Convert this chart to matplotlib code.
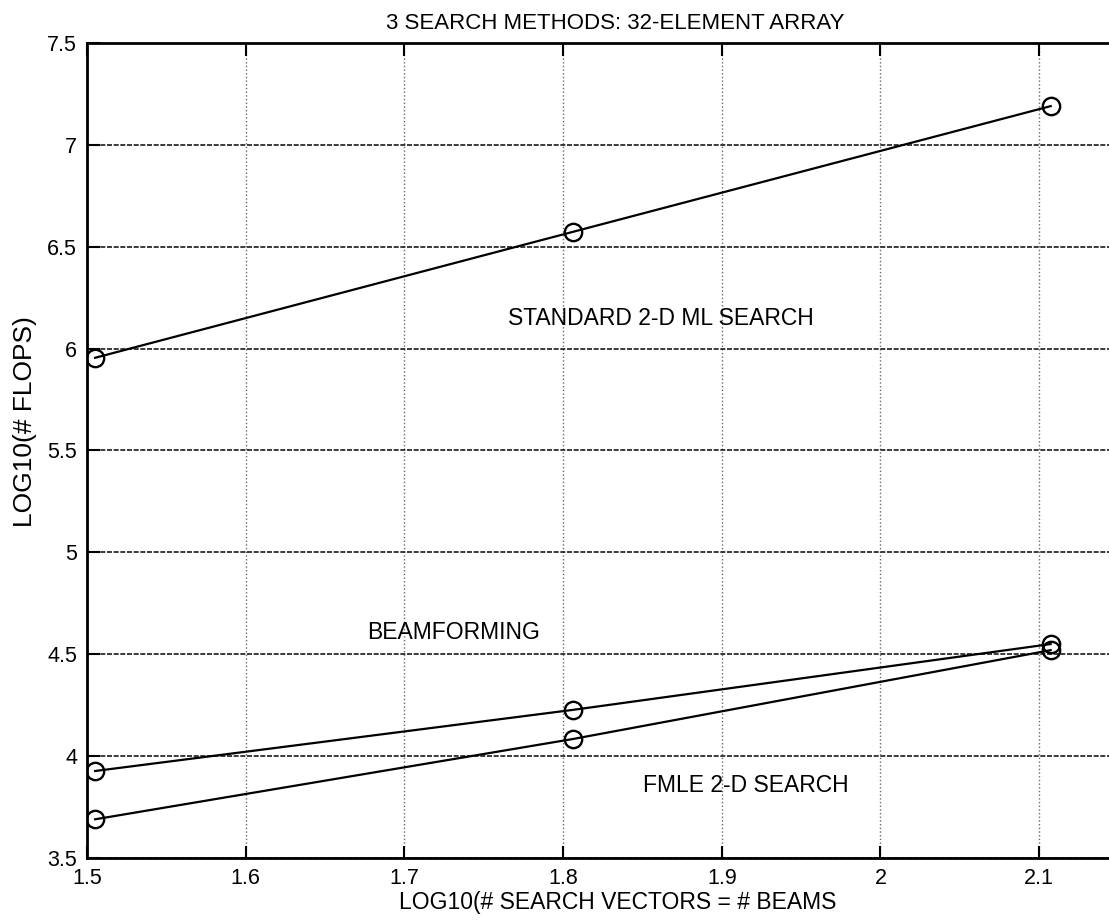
import matplotlib
matplotlib.use("Agg")
import matplotlib.pyplot as plt
import numpy as np

# values
beams = [32, 64, 128]
x_vals = np.log10(beams)
standard_ml = [5.955, 6.573, 7.19]
beamforming = [3.927, 4.227, 4.55]
fmle = [3.69, 4.084, 4.52]

x_ticks = [1.5, 1.6, 1.7, 1.8, 1.9, 2.0, 2.1]
x_tick_labels = ["1.5", "1.6", "1.7", "1.8", "1.9", "2", "2.1"]
y_ticks = [3.5, 4, 4.5, 5, 5.5, 6, 6.5, 7, 7.5]
y_tick_labels = ["3.5", "4", "4.5", "5", "5.5", "6", "6.5", "7", "7.5"]

plt.rcParams["font.family"] = "sans-serif"
plt.rcParams["font.sans-serif"] = ["Liberation Sans", "DejaVu Sans"]

fig = plt.figure(figsize=(11.09, 9.22), dpi=100)
# right edge of the axes runs past the picture, as in the scan
ax = fig.add_axes([0.0784, 0.0694, 0.9531, 0.884])

for series in (standard_ml, beamforming, fmle):
    ax.plot(x_vals, series, color="black", linewidth=1.6, marker="o",
            markersize=12.5, markerfacecolor="none", markeredgewidth=1.7,
            markeredgecolor="black")

ax.set_xlim(1.5, 2.166)
ax.set_ylim(3.5, 7.5)
ax.set_xticks(x_ticks)
ax.set_xticklabels(x_tick_labels)
ax.set_yticks(y_ticks)
ax.set_yticklabels(y_tick_labels)

# horizontal grid dense, vertical grid sparse dotted
ax.yaxis.grid(True, color="#1a1a1a", linestyle="--", dashes=(3, 1), linewidth=1.2)
ax.xaxis.grid(True, color="#6a6a6a", linestyle=":", linewidth=1.0)

ax.tick_params(direction="in", length=9, width=1.5, top=True, right=True,
               labelsize=15.5, pad=7)
for side in ("left", "bottom", "top"):
    ax.spines[side].set_linewidth(2.0)

ax.set_title("3 SEARCH METHODS: 32-ELEMENT ARRAY", fontsize=16, pad=10)
ax.set_xlabel("LOG10(# SEARCH VECTORS = # BEAMS", fontsize=16.5)
ax.xaxis.set_label_coords(0.502, -0.041)
ax.set_ylabel("LOG10(# FLOPS)", fontsize=19)
ax.yaxis.set_label_coords(-0.047, 0.536)

ax.text(1.7653, 6.146, "STANDARD 2-D ML SEARCH", fontsize=16.5, va="center", ha="left")
ax.text(1.6764, 4.609, "BEAMFORMING", fontsize=16.5, va="center", ha="left")
ax.text(1.8503, 3.858, "FMLE 2-D SEARCH", fontsize=16.5, va="center", ha="left")

fig.savefig("out.png", dpi=100)
plt.close(fig)
